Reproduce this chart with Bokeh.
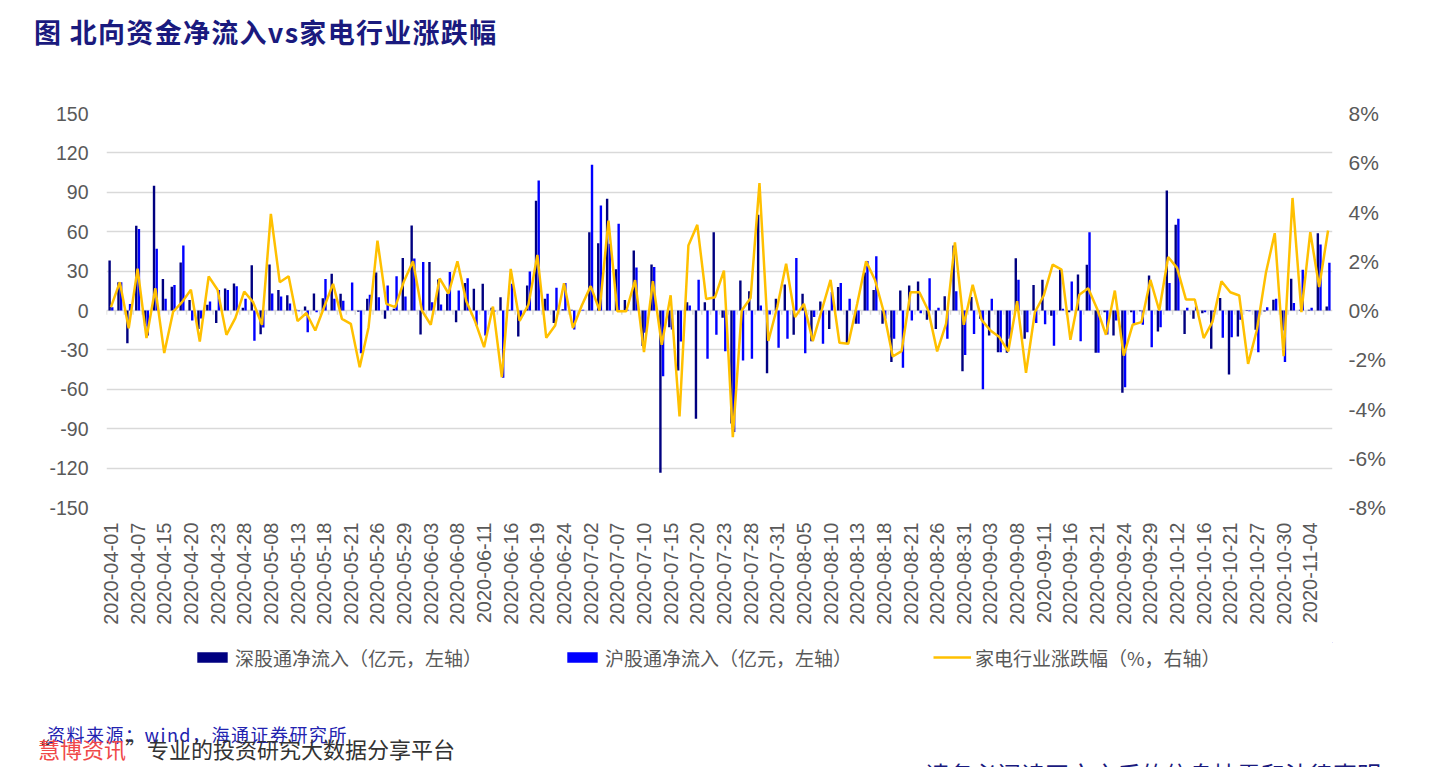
from bokeh.plotting import figure
from bokeh.layouts import column
from bokeh.models import (Range1d, LinearAxis, FixedTicker, PrintfTickFormatter,
                          Legend, LegendItem, ColumnDataSource, Div)
from bokeh.transform import dodge
from bokeh.embed import file_html
from bokeh.resources import INLINE
from math import pi

# ---------------- data ----------------
dates = [
    "2020-04-01", "2020-04-02", "2020-04-03", "2020-04-07", "2020-04-08", "2020-04-09",
    "2020-04-15", "2020-04-16", "2020-04-17", "2020-04-20", "2020-04-21", "2020-04-22",
    "2020-04-23", "2020-04-24", "2020-04-27", "2020-04-28", "2020-04-29", "2020-05-06",
    "2020-05-08", "2020-05-11", "2020-05-12", "2020-05-13", "2020-05-14", "2020-05-15",
    "2020-05-18", "2020-05-19", "2020-05-20", "2020-05-21", "2020-05-22", "2020-05-25",
    "2020-05-26", "2020-05-27", "2020-05-28", "2020-05-29", "2020-06-01", "2020-06-02",
    "2020-06-03", "2020-06-04", "2020-06-05", "2020-06-08", "2020-06-09", "2020-06-10",
    "2020-06-11", "2020-06-12", "2020-06-15", "2020-06-16", "2020-06-17", "2020-06-18",
    "2020-06-19", "2020-06-22", "2020-06-23", "2020-06-24", "2020-06-29", "2020-06-30",
    "2020-07-02", "2020-07-03", "2020-07-06", "2020-07-07", "2020-07-08", "2020-07-09",
    "2020-07-10", "2020-07-13", "2020-07-14", "2020-07-15", "2020-07-16", "2020-07-17",
    "2020-07-20", "2020-07-21", "2020-07-22", "2020-07-23", "2020-07-24", "2020-07-27",
    "2020-07-28", "2020-07-29", "2020-07-30", "2020-07-31", "2020-08-03", "2020-08-04",
    "2020-08-05", "2020-08-06", "2020-08-07", "2020-08-10", "2020-08-11", "2020-08-12",
    "2020-08-13", "2020-08-14", "2020-08-17", "2020-08-18", "2020-08-19", "2020-08-20",
    "2020-08-21", "2020-08-24", "2020-08-25", "2020-08-26", "2020-08-27", "2020-08-28",
    "2020-08-31", "2020-09-01", "2020-09-02", "2020-09-03", "2020-09-04", "2020-09-07",
    "2020-09-08", "2020-09-09", "2020-09-10", "2020-09-11", "2020-09-14", "2020-09-15",
    "2020-09-16", "2020-09-17", "2020-09-18", "2020-09-21", "2020-09-22", "2020-09-23",
    "2020-09-24", "2020-09-25", "2020-09-28", "2020-09-29", "2020-09-30", "2020-10-09",
    "2020-10-12", "2020-10-13", "2020-10-14", "2020-10-16", "2020-10-19", "2020-10-20",
    "2020-10-21", "2020-10-22", "2020-10-23", "2020-10-27", "2020-10-28", "2020-10-29",
    "2020-10-30", "2020-11-02", "2020-11-03", "2020-11-04", "2020-11-05", "2020-11-06",
]

# 深股通净流入（亿元）
sz_flow = [
    38, 21.6, -25, 64.5, -12, 95, 24, 18, 36.5, 8, -14, 4.3, -9.6, 16.8, 20.6, 2, 34.5, -18,
    35, 15.7, 11.7, 0.5, 3, 13, 9.4, 28, 12.7, 0, -1, 9, 29, -6.3, 1.3, 40, 64.7, -18.3,
    37, 23.6, 12.7, -8.9, 21, 16.5, 20.3, 2, 10, 0.5, -19.8, 19, 83.5, 8.9, -9.6, 1,
    0.5, 0.3, 59.6, 51.3, 85, 31.5, 7.9, 45.7, -27, 35, -123.6, -12.7, -45.7, 6.3, -82.5, 6.3,
    59.6, -5.6, -86, 22.8, 14.7, 73, -47.7, 8.9, 19.8, -18.5, 12.7, -23.4, 6.9, -14, 17.8, -25,
    -10, 29, 15.7, -10, -39.3, 15.2, 19, 22, -7.1, -14, 10.9, 49.5, -46.2, 10.2, -6.3, -19,
    -31.7, -32.2, 39.8, -21.6, 19.5, 23.4, -4, 31.1, -1.3, 27.4, 34.8, -32.2, -1.3, -19, -62.7, -1.3,
    -0.5, 26.6, -16, 91.4, 65.2, -17.8, -6.3, -2, -29.2, 9.6, -48.7, -19.8, 0.3, -14.7, -0.8, 8.1,
    -15.2, 24.1, 0.5, 0.5, 58.9, 3,
]

# 沪股通净流入（亿元）
sh_flow = [
    2.5, 21.6, 5, 62, -19, 47, 9, 19.5, 49.5, -7.6, -6, 6.9, 15.7, 15.7, 18.5, 9, -23, -13,
    13, 10.7, 5.3, -0.5, -16.5, -1.3, 24, 9, 7.4, 21.3, -32.5, 12, 10, 19, 26, 10.7, 39.6, 37,
    6.3, 4.6, 29.4, 15.2, 24.6, -11.4, -19, -1, -51.3, 20.3, -5, 29.7, 99, 12.7, 17.3, 21,
    -14.5, 0.5, 111, 80, 50.8, 66, 0.5, 32.7, -17, 33.2, -50, -14.5, -23.6, 3.8, 23.4, -36.8,
    -18.5, -31, -92.6, -38, -36.8, 3.8, -3, -28.4, -21.6, 40, -32.5, -5, -25.4, 14, 21, 8.9,
    -10, 37.6, 41.4, -6.3, -21.6, -43.6, -7.6, -2, 24.6, 2, -21.6, 14.7, -33.8, -17.8, -60, 8.9,
    -31.7, -21.6, 23.4, -16.5, -9.6, -10.5, -26.8, 1.3, 22, -23.4, 59.6, -32.2, -18.3, -7.6, -58.4, -10,
    -10.9, -28, -12.7, 21, 69.8, 2, 3, -1.3, -1.3, -20.8, -20.3, -7.1, -0.5, -31.7, 2.5, 8.9,
    -39.3, 5.8, 31, 2, 50.3, 36.3,
]

# 家电行业涨跌幅（%）
appliance_pct = [
    0.14, 1.15, -0.72, 1.7, -1.12, 0.9, -1.73, -0.05, 0.34, 0.84, -1.26, 1.38, 0.84, -0.99, -0.31, 0.77, 0.34, -0.58,
    3.92, 1.15, 1.39, -0.43, -0.1, -0.81, 0.14, 1.08, -0.34, -0.54, -2.3, -0.68, 2.84, 0.27, 0.14, 1.2, 2.0, 0.0,
    -0.58, 1.3, 0.69, 2.0, 0.38, -0.45, -1.49, 0.16, -2.71, 1.69, -0.42, 0.24, 2.26, -1.11, -0.61, 1.11,
    -0.71, 0.2, 0.99, 0.0, 3.65, -0.03, -0.03, 1.23, -1.69, 1.19, -1.39, 0.62, -4.3, 2.64, 3.48, 0.47,
    0.54, 1.62, -5.14, 0.0, 0.51, 5.17, -1.24, 0.14, 1.9, -0.27, 0.27, -1.24, 0.0, 1.24, -1.31, -1.35,
    0.27, 2.0, 1.24, -0.07, -1.87, -1.65, 0.74, 0.74, 0.0, -1.66, -0.54, 2.77, -0.58, 1.04, -0.38, -0.81,
    -1.08, -1.66, 0.38, -2.53, -0.07, 0.61, 1.86, 1.66, -1.19, 0.64, 0.9, 0.07, -0.99, 0.81, -1.83, -0.58,
    -0.47, 1.24, 0.0, 2.17, 1.73, 0.45, 0.45, -1.12, -0.45, 1.19, 0.74, 0.61, -2.17, -0.77, 1.52, 3.14,
    -1.85, 4.57, -0.07, 3.18, 0.95, 3.25,
]

left_ticks = [-150, -120, -90, -60, -30, 0, 30, 60, 90, 120, 150]
right_ticks = [-8, -6, -4, -2, 0, 2, 4, 6, 8]

title_text = "图  北向资金净流入vs家电行业涨跌幅"
legend_labels = ["深股通净流入（亿元，左轴）", "沪股通净流入（亿元，左轴）", "家电行业涨跌幅（%，右轴）"]
source_text = "资料来源：wind，海通证券研究所"
watermark_parts = ["“", "慧博资讯", "”专业的投资研究大数据分享平台"]
disclaimer_text = "请务必阅读正文之后的信息披露和法律声明"

FONT = "Liberation Sans"
CJK = "Noto Sans CJK SC"
GRAY = "#595959"
NAVY_TXT = "#1A1A7E"
C_SZ = "#000080"
C_SH = "#0000FF"
C_LN = "#FFC000"
W = 1440


def span(txt, left, top, size, color, bold=False, extra=""):
    weight = "bold" if bold else "normal"
    return (f'<span style="position:absolute;left:{left}px;top:{top}px;font-family:\'{CJK}\';'
            f'font-size:{size}px;font-weight:{weight};color:{color};line-height:1;'
            f'white-space:nowrap;{extra}">{txt}</span>')


# ---------------- title strip (HTML text) ----------------
top_html = (f'<div style="position:relative;width:{W}px;height:60px;overflow:hidden;">'
            + span(title_text, 34, 18, 27, NAVY_TXT, bold=True, extra="letter-spacing:1.3px;")
            + '</div>')
top = Div(text=top_html, width=W, height=60, margin=0)

# ---------------- main chart ----------------
n = len(dates)
idx = list(range(n))
src = ColumnDataSource(dict(x=idx, sz=sz_flow, sh=sh_flow, pct=appliance_pct,
                            zero=[0] * n, tick=[-3.2] * n))

p = figure(frame_width=1226, frame_height=394,
           min_border_left=106, min_border_right=108, min_border_top=53, min_border_bottom=135,
           x_range=Range1d(-0.5, n - 0.5), y_range=Range1d(-150, 150),
           output_backend="svg", toolbar_location=None, tools="", margin=0)
p.outline_line_color = None
p.background_fill_color = "white"
p.border_fill_color = "white"
p.extra_y_ranges = {"pct": Range1d(-8, 8)}

p.xgrid.visible = False
p.ygrid.ticker = FixedTicker(ticks=left_ticks)
p.ygrid.grid_line_color = "#D9D9D9"
p.ygrid.grid_line_width = 1.5

ya = p.yaxis[0]
ya.ticker = FixedTicker(ticks=left_ticks)
ya.formatter = PrintfTickFormatter(format="%d")
ya.axis_line_color = None
ya.major_tick_line_color = None
ya.minor_tick_line_color = None
ya.major_label_text_font = FONT
ya.major_label_text_font_size = "19.5px"
ya.major_label_text_color = GRAY
ya.major_label_standoff = 12

ra = LinearAxis(y_range_name="pct", ticker=FixedTicker(ticks=right_ticks),
                formatter=PrintfTickFormatter(format="%d%%"))
ra.axis_line_color = None
ra.major_tick_line_color = None
ra.minor_tick_line_color = None
ra.major_label_text_font = FONT
ra.major_label_text_font_size = "21px"
ra.major_label_text_color = GRAY
ra.major_label_standoff = 10
p.add_layout(ra, "right")

xa = p.xaxis[0]
xa.ticker = FixedTicker(ticks=list(range(0, n, 3)))
xa.major_label_overrides = {i: dates[i] for i in range(0, n, 3)}
xa.major_label_orientation = pi / 2
xa.axis_line_color = None
xa.major_tick_line_color = None
xa.minor_tick_line_color = None
xa.major_label_text_font = FONT
xa.major_label_text_font_size = "20px"
xa.major_label_text_color = GRAY
xa.major_label_standoff = 9

# tick marks on the zero line at category boundaries
p.segment(x0=dodge("x", -0.5), y0="zero", x1=dodge("x", -0.5), y1="tick", source=src,
          line_color="#D9D9D9", line_width=1.5)

p.vbar(x=dodge("x", -0.15, range=p.x_range), top="sz", bottom=0, width=0.27, source=src,
       fill_color=C_SZ, line_color=None)
p.vbar(x=dodge("x", 0.15, range=p.x_range), top="sh", bottom=0, width=0.27, source=src,
       fill_color=C_SH, line_color=None)
p.line(x="x", y="pct", y_range_name="pct", source=src, line_color=C_LN, line_width=2.5)

# ---------------- legend strip ----------------
lf = figure(width=W, height=30, x_range=Range1d(0, 1), y_range=Range1d(0, 1),
            x_axis_type=None, y_axis_type=None, min_border=0,
            output_backend="svg", toolbar_location=None, tools="", margin=0)
lf.outline_line_color = None
lf.xgrid.visible = False
lf.ygrid.visible = False
lf.background_fill_color = "white"
lf.border_fill_color = "white"
# legend swatch renderers: one point each, placed outside this strip's visible range
offscreen = ColumnDataSource(dict(x=[5.0], y=[5.0], y0=[4.0]))
g_sz = lf.vbar(x="x", top="y", bottom="y0", width=0.27, source=offscreen, fill_color=C_SZ, line_color=None)
g_sh = lf.vbar(x="x", top="y", bottom="y0", width=0.27, source=offscreen, fill_color=C_SH, line_color=None)
g_ln = lf.line(x="x", y="y", source=offscreen, line_color=C_LN, line_width=2.5)
legend = Legend(items=[LegendItem(label=legend_labels[0], renderers=[g_sz], index=0),
                       LegendItem(label=legend_labels[1], renderers=[g_sh], index=0),
                       LegendItem(label=legend_labels[2], renderers=[g_ln], index=0)],
                orientation="horizontal", location="center",
                glyph_width=38, glyph_height=13, label_width=270, label_height=24,
                label_standoff=4, spacing=58, padding=0, margin=0,
                label_text_font=CJK, label_text_font_size="19px", label_text_color=GRAY,
                border_line_color=None, background_fill_alpha=0)
lf.add_layout(legend, "center")

# ---------------- footer strip (HTML text) ----------------
bot_html = (f'<div style="position:relative;width:{W}px;height:95px;overflow:hidden;">'
            + span(source_text, 47, 53, 18, "#2222B0", extra="letter-spacing:1.5px;")
            + span(watermark_parts[0], 28, 65, 22, "#333333")
            + span(watermark_parts[1], 38, 65, 22, "#F04848")
            + span(watermark_parts[2], 125, 65, 22, "#333333")
            + span(disclaimer_text, 925, 90, 24, NAVY_TXT)
            + '</div>')
bot = Div(text=bot_html, width=W, height=95, margin=0)

layout = column(top, p, lf, bot, spacing=0)
open("out.html", "w").write(file_html(layout, INLINE))
